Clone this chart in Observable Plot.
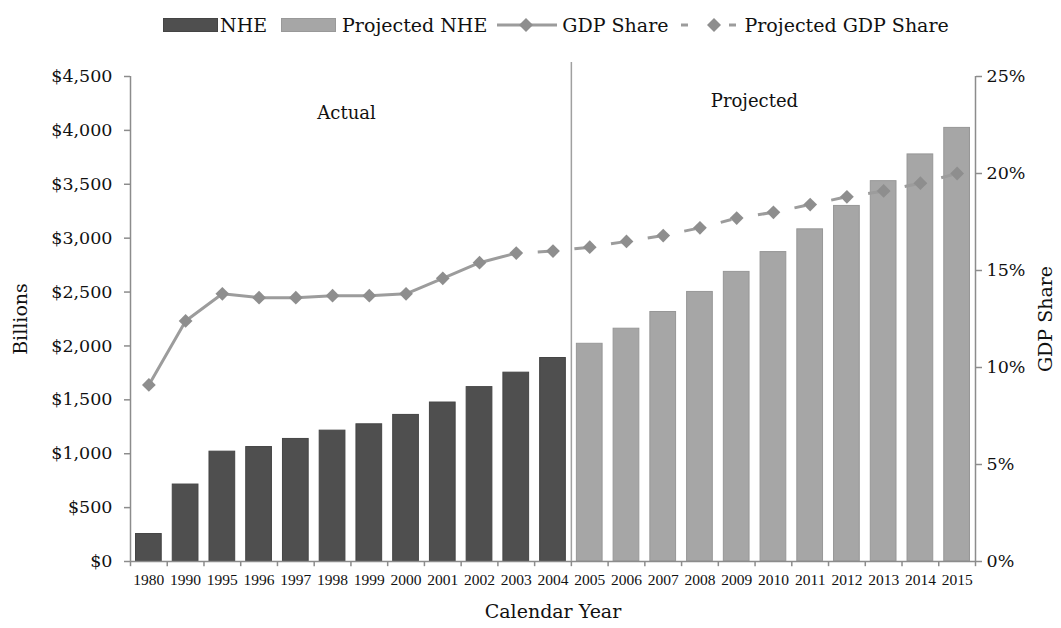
<!DOCTYPE html>
<html>
<head>
<meta charset="utf-8">
<script src="https://cdn.jsdelivr.net/npm/d3@7"></script>
<script src="https://cdn.jsdelivr.net/npm/@observablehq/plot@0.6"></script>
<style>
  body { margin: 0; background: #fff; font-family: "DejaVu Serif", serif; }
  #legend { height: 50px; display: flex; align-items: center; padding-left: 163px; font-size: 19px; color: #111; box-sizing: border-box; }
  #legend .item { display: flex; align-items: center; }
  #legend svg { display: block; }
</style>
</head>
<body>
<div id="legend"></div>
<div id="chart"></div>
<script>
// ---- data ----
const years = ["1980","1990","1995","1996","1997","1998","1999","2000","2001","2002","2003","2004",
               "2005","2006","2007","2008","2009","2010","2011","2012","2013","2014","2015"];
const nhe = [255, 714, 1019, 1062, 1137, 1214, 1273, 1360, 1475, 1618, 1752, 1888,
             2020, 2160, 2315, 2501, 2687, 2871, 3082, 3299, 3529, 3777, 4023];
const gdpShare = [9.1, 12.4, 13.8, 13.6, 13.6, 13.7, 13.7, 13.8, 14.6, 15.4, 15.9, 16.0,
                  16.2, 16.5, 16.8, 17.2, 17.7, 18.0, 18.4, 18.8, 19.1, 19.5, 20.0];
const firstProjectedYear = "2005";       // NHE bars
const firstProjectedShareYear = "2004";  // GDP share markers
const dollarTicks = [0, 500, 1000, 1500, 2000, 2500, 3000, 3500, 4000, 4500];
const shareTicks = [0, 5, 10, 15, 20, 25];
const annotations = [
  {text: "Actual", year: "1998", value: 4160, dx: 14},
  {text: "Projected", year: "2010", value: 4270, dx: -19}
];
const legendItems = [
  {label: "NHE", kind: "bar", color: "#4f4f4f", edge: "#444"},
  {label: "Projected NHE", kind: "bar", color: "#a6a6a6", edge: "#999"},
  {label: "GDP Share", kind: "line"},
  {label: "Projected GDP Share", kind: "dash"}
];

// ---- style ----
const textColor = "#111";
const actFill = "#4f4f4f", actStroke = "#454545";
const projFill = "#a6a6a6", projStroke = "#979797";
const lineGray = "#9c9c9c", markGray = "#8e8e8e", axisGray = "#8c8c8c";
const width = 1061, height = 578;
const marginLeft = 130, marginRight = 86, marginTop = 26, marginBottom = 67;
const step = (width - marginLeft - marginRight) / years.length;
const yMax = 4500, shareMax = 25, k = yMax / shareMax;

// ---- legend ----
const legend = document.getElementById("legend");
legendItems.forEach((it, i) => {
  const div = document.createElement("div");
  div.className = "item";
  let sym;
  if (it.kind === "bar") {
    sym = `<svg width="55" height="14"><rect x="0.5" y="0.5" width="54" height="13" fill="${it.color}" stroke="${it.edge}"/></svg>`;
  } else if (it.kind === "line") {
    sym = `<svg width="60" height="18"><line x1="0" y1="9" x2="60" y2="9" stroke="${lineGray}" stroke-width="3"/><path d="M29,2 L36,9 L29,16 L22,9Z" fill="${markGray}"/></svg>`;
  } else {
    sym = `<svg width="60" height="18"><line x1="2" y1="9" x2="9" y2="9" stroke="${lineGray}" stroke-width="3"/><line x1="50" y1="9" x2="57" y2="9" stroke="${lineGray}" stroke-width="3"/><path d="M35,2 L42,9 L35,16 L28,9Z" fill="${markGray}"/></svg>`;
  }
  const gapBefore = [0, 14, 10, 11][i];
  const gapText = [2, 6, 5, 5][i];
  div.style.marginLeft = gapBefore + "px";
  div.innerHTML = sym + `<span style="margin-left:${gapText}px">${it.label}</span>`;
  legend.appendChild(div);
});

// ---- chart ----
const projIndex = years.indexOf(firstProjectedYear);
const shareIndex = years.indexOf(firstProjectedShareYear);
const rows = years.map((year, i) => ({year, nhe: nhe[i], share: gdpShare[i], projected: i >= projIndex}));
const actualShare = rows.slice(0, shareIndex);
const projectedLinks = rows.slice(shareIndex - 1, -1).map((d, j) => ({
  x1: d.year, y1: d.share * k, x2: rows[shareIndex + j].year, y2: rows[shareIndex + j].share * k
}));

const chart = Plot.plot({
  width, height, marginLeft, marginRight, marginTop, marginBottom,
  style: {fontFamily: "DejaVu Serif", fontSize: "17px", color: textColor, background: "#fff"},
  x: {type: "band", domain: years, paddingInner: 0.3, paddingOuter: 0.15, round: false, label: null},
  y: {domain: [0, yMax], label: null},
  marks: [
    // bars
    Plot.barY(rows.filter(d => !d.projected), {x: "year", y: "nhe", fill: actFill, stroke: actStroke, strokeWidth: 1}),
    Plot.barY(rows.filter(d => d.projected), {x: "year", y: "nhe", fill: projFill, stroke: projStroke, strokeWidth: 1}),
    // axis frame lines
    Plot.ruleY([0], {stroke: axisGray, strokeWidth: 1.5}),
    Plot.ruleX([years[0]], {dx: -step / 2, y1: 0, y2: yMax, stroke: axisGray, strokeWidth: 1.5}),
    Plot.ruleX([years[years.length - 1]], {dx: step / 2, y1: 0, y2: yMax, stroke: axisGray, strokeWidth: 1.5}),
    // x boundary ticks
    Plot.ruleX(years, {dx: -step / 2, y1: 0, y2: -48, stroke: axisGray, strokeWidth: 1.5}),
    Plot.ruleX([years[years.length - 1]], {dx: step / 2, y1: 0, y2: -48, stroke: axisGray, strokeWidth: 1.5}),
    // actual / projected divider
    Plot.ruleX([firstProjectedYear], {dx: -step / 2, y1: yMax, y2: 0, insetTop: -14, stroke: "#a0a0a0", strokeWidth: 1.5}),
    // GDP share
    Plot.line(actualShare, {x: "year", y: d => d.share * k, stroke: lineGray, strokeWidth: 3}),
    Plot.link(projectedLinks, {x1: "x1", y1: "y1", x2: "x2", y2: "y2", stroke: lineGray, strokeWidth: 3, strokeDasharray: "0,21.5,11,100"}),
    Plot.dot(rows, {x: "year", y: d => d.share * k, symbol: "diamond2", r: 6.2, fill: markGray, stroke: "none"}),
    // axes
    Plot.axisY(dollarTicks, {anchor: "left", tickSize: 6, tickPadding: 12, stroke: axisGray, strokeWidth: 1.5,
      fill: textColor, fontSize: 17.5, tickFormat: d => "$" + d3.format(",")(d), label: null}),
    Plot.axisY(shareTicks.map(t => t * k), {anchor: "right", tickSize: 6, tickPadding: 5, stroke: axisGray, strokeWidth: 1.5,
      fill: textColor, fontSize: 17.5, tickFormat: d => Math.round(d / k) + "%", label: null}),
    Plot.axisX({anchor: "bottom", tickSize: 0, tickPadding: 12, fontFamily: "Liberation Serif", fontSize: 15.5, fill: textColor, label: null}),
    // annotations
    ...annotations.map(a => Plot.text([a], {x: "year", y: "value", dx: a.dx, text: "text", fontSize: 18, fill: textColor})),
    // axis titles
    Plot.text(["Billions"], {frameAnchor: "left", textAnchor: "middle", dx: -110, rotate: -90, fontSize: 19, fill: textColor}),
    Plot.text(["GDP Share"], {frameAnchor: "right", textAnchor: "middle", dx: 70, rotate: -90, fontSize: 19, fill: textColor}),
    Plot.text(["Calendar Year"], {frameAnchor: "bottom", dy: 56, fontSize: 19, fill: textColor})
  ]
});
document.getElementById("chart").appendChild(chart);
</script>
</body>
</html>
